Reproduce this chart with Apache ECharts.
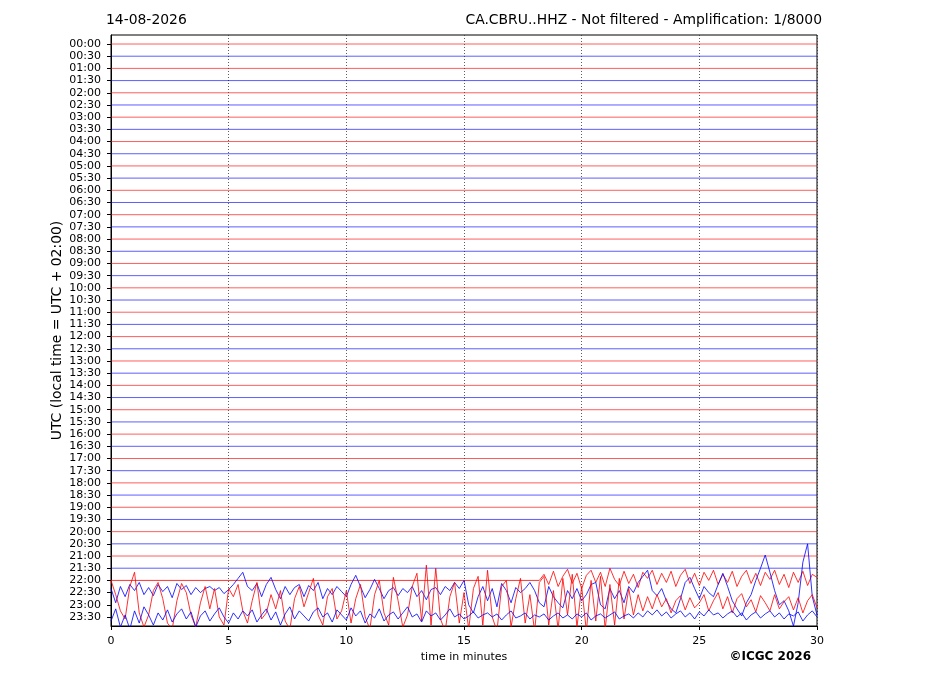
<!DOCTYPE html>
<html>
<head>
<meta charset="utf-8">
<title>CA.CBRU..HHZ helicorder</title>
<script src="https://cdn.jsdelivr.net/npm/echarts@6.0.0/dist/echarts.min.js"></script>
<style>
  html, body { margin: 0; padding: 0; background: #fff; }
  #chart { width: 927px; height: 696px; }
</style>
</head>
<body>
<div id="chart"></div>
<script>
// one row every 30 minutes (UTC)
var rowLabels = ['00:00','00:30','01:00','01:30','02:00','02:30','03:00','03:30','04:00','04:30',
  '05:00','05:30','06:00','06:30','07:00','07:30','08:00','08:30','09:00','09:30',
  '10:00','10:30','11:00','11:30','12:00','12:30','13:00','13:30','14:00','14:30',
  '15:00','15:30','16:00','16:30','17:00','17:30','18:00','18:30','19:00','19:30',
  '20:00','20:30','21:00','21:30','22:00','22:30','23:00','23:30'];
var rowColors = ['#ff0000', '#0000ff'];
var xTicks = [0, 5, 10, 15, 20, 25, 30];

var sampleStep = 0.2;      // minutes between samples
var countsPerRow = 12;     // amplitude units per row spacing

// 22:00 row is quiet until 18.2 min
var trace2200Start = 18.2;
var trace2200 = [0, 6, -4, 9, -6, 4, 11, -3, 7, -8,
  5, 10, -2, 8, -6, 12, 1, -5, 9, -3,
  6, -7, 8, 2, 10, -4, 7, -2, 9, -6,
  5, 11, -3, 7, -5, 8, 0, 10, -4, 6,
  -2, 9, -6, 4, 10, -3, 7, -5, 8, 1,
  10, -4, 6, -7, 8, -2, 9, -5, 6, 3];

var trace2230 = [4, -10, 6, -4, 8, 2, 10, -2, 5, -3,
  8, 1, 6, -5, 9, 3, 7, -2, 5, 0,
  4, 6, 2, 5, -1, 3, 8, 14, 20, 6,
  2, 9, -4, 8, 15, 3, -6, 6, -2, 5,
  8, -4, 7, 2, 10, -6, 4, -2, 6, 1,
  -4, 8, 17, 6, -5, 3, 13, 4, -6, 2,
  5, -3, 4, 0, 6, -4, 2, -7, 3, 5,
  -2, 6, 2, 10, 4, 12, -12, -20, -4, 6,
  -8, 4, -14, 9, 2, -10, 5, 0, 4, 10,
  2, -10, -14, 6, -4, -10, -15, 2, -6, 4,
  -8, -2, 8, 10, -12, -16, 4, -6, 2, -10,
  6, 0, 10, 16, 22, 2, -3, 4, -8, -16,
  -20, -6, 10, 15, 4, -6, 6, 0, -4, 8,
  19, 6, -8, -16, -23, -10, -2, 12, 24, 37,
  20, 2, -12, -8, -18, -33, -10, 30, 48, -4,
  -22];

var trace2300 = [24, 10, -6, -14, 18, 32, -8, -22, -10, 14,
  22, 6, -18, -24, 4, 21, 12, -10, -22, 2,
  18, -4, 16, -12, -20, 16, 8, 20, -6, -18,
  4, 22, -14, -8, 10, -4, 14, -16, -24, 6,
  18, -2, 12, 26, -10, -20, 8, 16, -14, -6,
  14, -18, 6, 20, -12, -24, 10, 24, -8, -20,
  27, 4, -22, -10, 18, 31, -16, 39, -20, 36,
  -14, -26, 8, 22, -18, 12, -24, 16, 28, -20,
  34, -12, -26, 18, 24, -22, 6, 26, -18, 10,
  -26, 22, 28, -20, 14, -24, 26, -10, 30, -22,
  18, -26, 24, -16, 28, -24, 20, -20, 26, -14,
  16, -10, 10, -6, 8, -4, 10, -2, 6, -8,
  4, 9, -5, 7, -3, 2, 10, -6, 4, 12,
  -4, 8, -8, 6, 11, -2, 5, -7, 9, 2,
  -6, 10, -4, 3, 8, -5, 7, -8, 4, 10,
  -3];

var trace2330 = [-4, 8, -10, 2, -12, 6, -6, 10, 2, -8,
  4, -3, 7, -5, 3, 8, -2, 5, -10, 1,
  6, -4, 3, 9, 0, -6, 4, -2, 6, 1,
  7, -5, 2, 8, -3, 5, -8, 3, 10, -2,
  6, 1, -4, 5, 9, 0, 4, -5, 7, 2,
  -3, 9, 1, 6, -6, 3, -1, 8, -4, 2,
  5, -2, 4, 10, 0, 3, -5, 6, 1, 4,
  -3, 2, 8, 0, 3, -2, 1, 5, -1, 2,
  4, 0, 3, -3, 2, 6, -1, 1, 4, -2,
  2, 0, 3, -3, 1, 4, -1, 2, -2, 3,
  0, 4, -3, 1, 3, -1, 2, 5, -2, 1,
  3, -1, 4, 0, 6, 2, 7, 1, 5, -1,
  3, 6, 0, 4, -2, 5, 1, 7, 2, 4,
  -1, 3, 6, 0, 4, -3, 2, 5, -1, 3,
  6, 0, 4, -2, 3, 1, 5, -4, 2, 6,
  0];

var activeRows = {
  44: { start: trace2200Start, values: trace2200 },
  45: { start: 0, values: trace2230 },
  46: { start: 0, values: trace2300 },
  47: { start: 0, values: trace2330 }
};

var rowIdx = rowLabels.map(function (l, i) { return i; });

var series = rowLabels.map(function (label, r) {
  var data;
  var tr = activeRows[r];
  if (tr) {
    data = tr.start > 0 ? [[0, r]] : [];
    tr.values.forEach(function (v, i) {
      data.push([tr.start + i * sampleStep, r - v / countsPerRow]);
    });
  } else {
    data = [[0, r], [30, r]];
  }
  return {
    name: label,
    type: 'line',
    data: data,
    showSymbol: false,
    clip: true,
    silent: true,
    lineStyle: { color: rowColors[r % 2], width: tr ? 0.9 : 0.8, opacity: tr ? 0.9 : 0.8 }
  };
});

var chart = echarts.init(document.getElementById('chart'));
var option = {
  animation: false,
  textStyle: { fontFamily: 'DejaVu Sans' },
  grid: {
    left: 111, right: 110, top: 35, bottom: 70,
    show: true, borderColor: '#000', borderWidth: 1
  },
  xAxis: {
    type: 'value',
    min: 0, max: 30, interval: 5,
    name: 'time in minutes',
    nameLocation: 'middle',
    nameGap: 26,
    nameMoveOverlap: false,
    nameTextStyle: { fontSize: 11, color: '#000' },
    axisLine: { show: true, onZero: false, lineStyle: { color: '#000', width: 1 } },
    axisTick: { show: true, length: 4, lineStyle: { color: '#000' } },
    axisLabel: { fontSize: 11, color: '#000', margin: 10,
      formatter: function (v) { return xTicks.indexOf(v) >= 0 ? String(v) : ''; } },
    splitLine: { show: true, lineStyle: { color: '#333', type: [1, 2], width: 0.8 } }
  },
  yAxis: {
    type: 'value',
    inverse: true,
    min: -0.74, max: 47.74,
    name: 'UTC (local time = UTC + 02:00)',
    nameLocation: 'middle',
    nameGap: 47,
    nameMoveOverlap: false,
    nameTextStyle: { fontSize: 13.9, color: '#000' },
    axisLine: { show: true, onZero: false, lineStyle: { color: '#000', width: 1 } },
    axisTick: { show: true, length: 4, customValues: rowIdx, lineStyle: { color: '#000' } },
    axisLabel: { fontSize: 11, color: '#000', margin: 10, customValues: rowIdx,
      formatter: function (v) { return rowLabels[Math.round(v)]; } },
    splitLine: { show: false }
  },
  graphic: [
    { type: 'text', left: 106, top: 13, style: { text: '14-08-2026', fontSize: 13.9, fill: '#000', fontFamily: 'DejaVu Sans' } },
    { type: 'text', right: 105, top: 13, style: { text: 'CA.CBRU..HHZ - Not filtered - Amplification: 1/8000', fontSize: 13.9, fill: '#000', fontFamily: 'DejaVu Sans' } },
    { type: 'text', right: 116, top: 651, style: { text: '\u00A9ICGC 2026', fontSize: 12, fontWeight: 'bold', fill: '#000', fontFamily: 'DejaVu Sans' } }
  ],
  series: series
};
chart.setOption(option);
</script>
</body>
</html>
